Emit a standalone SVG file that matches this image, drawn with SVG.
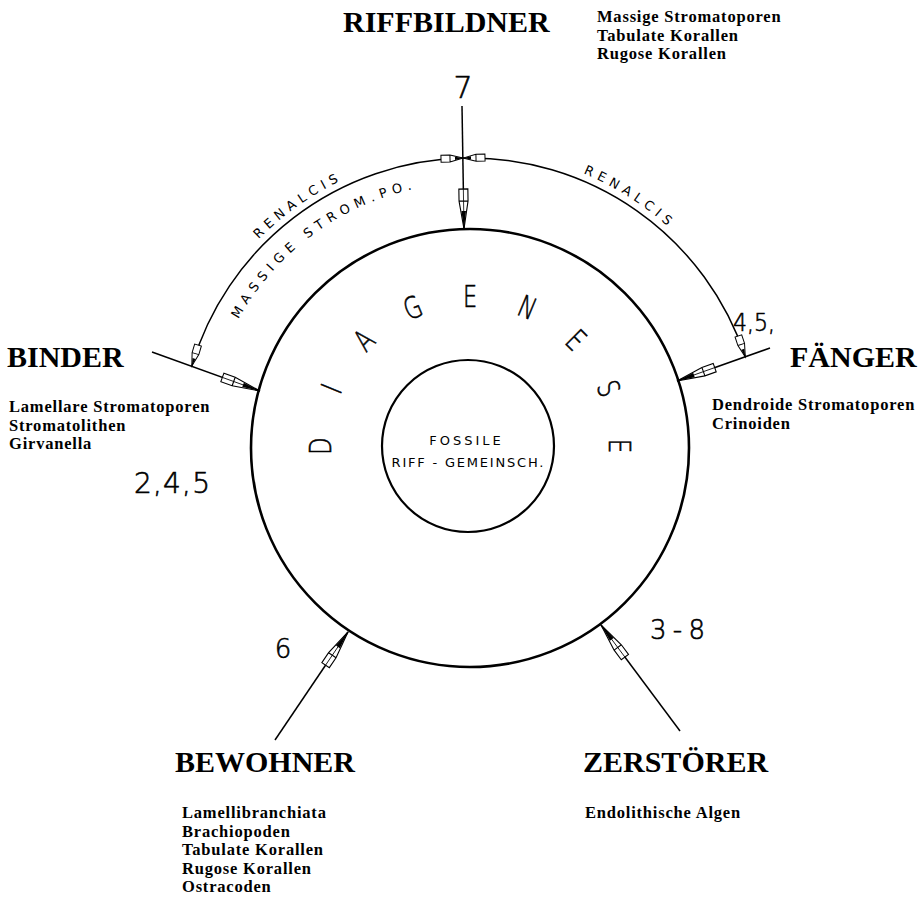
<svg xmlns="http://www.w3.org/2000/svg" width="920" height="897" viewBox="0 0 920 897">
<style>
.h{font-family:"Liberation Serif",serif;font-weight:bold;font-size:30px;fill:#000}
.l{font-family:"Liberation Serif",serif;font-weight:bold;font-size:16.5px;letter-spacing:0.8px;fill:#000}
.d{font-family:"DejaVu Sans",sans-serif;font-weight:200;fill:#000;stroke:#000;stroke-width:0.6}
.arc{font-family:"DejaVu Sans",sans-serif;font-size:13px;fill:#000}
.ln{fill:none;stroke:#000;stroke-width:1.5}
</style>
<defs>
<marker id="big" markerUnits="userSpaceOnUse" markerWidth="50" markerHeight="14" refX="0" refY="0" orient="auto" overflow="visible">
<path d="M0,0 L-28,-4.5 L-40,-4.5 L-40,4.5 L-28,4.5 Z M-28,-4.5 L-28,4.5" fill="#fff" stroke="#000" stroke-width="1.1"/>
<path d="M0,0 L-18,-2.3 L-18,2.3 Z" fill="#000"/>
<path d="M-40,0 L0,0" stroke="#000" stroke-width="0.8"/>
</marker>
<marker id="sm" markerUnits="userSpaceOnUse" markerWidth="30" markerHeight="10" refX="0" refY="0" orient="auto-start-reverse" overflow="visible">
<path d="M0,0 L-13,-3.5 L-22,-3.5 L-22,3.5 L-13,3.5 Z M-13,-3.5 L-13,3.5" fill="#fff" stroke="#000" stroke-width="1"/>
<path d="M0,0 L-8,-1.6 L-8,1.6 Z" fill="#000"/>
</marker>
<path id="pRenL" d="M190.4,347.9 A297,297 0 0 1 468.4,151.0"/>
<path id="pMas" d="M212.7,384.8 A265,265 0 0 1 487.6,183.6"/>
<path id="pRenR" d="M457.0,151.3 A297,297 0 0 1 744.4,334.3"/>
</defs>

<g id="connectors">
<path class="ln" d="M463,158.1 A290,290 0 0 0 191.8,366.1" marker-start="url(#sm)" marker-end="url(#sm)"/>
<path class="ln" d="M463,158.1 A290,290 0 0 1 745.3,356.8" marker-start="url(#sm)" marker-end="url(#sm)"/>
<path class="ln" d="M462,106 L464,229" marker-end="url(#big)"/>
<path class="ln" d="M152,352 L260,391" marker-end="url(#big)"/>
<path class="ln" d="M770,348 L677,381" marker-end="url(#big)"/>
<path class="ln" d="M275,740 L348,632" marker-end="url(#big)"/>
<path class="ln" d="M680,731 L601,625" marker-end="url(#big)"/>
<text class="arc" letter-spacing="5"><textPath href="#pRenL" startOffset="50%" text-anchor="middle">RENALCIS</textPath></text>
<text class="arc" letter-spacing="5.5"><textPath href="#pMas" startOffset="50%" text-anchor="middle">MASSIGE STROM.PO.</textPath></text>
<text class="arc" letter-spacing="5"><textPath href="#pRenR" startOffset="50%" text-anchor="middle">RENALCIS</textPath></text>
</g>

<g id="diagenese">
<circle cx="470" cy="448" r="219" fill="none" stroke="#000" stroke-width="2.6"/>
<g class="d" font-size="30" text-anchor="middle" dominant-baseline="central">
<text transform="translate(320,446) rotate(-90) scale(0.75,1)">D</text>
<text transform="translate(331.4,388.6) rotate(-67.5) scale(0.75,1)">I</text>
<text transform="translate(363.9,339.9) rotate(-45) scale(0.75,1)">A</text>
<text transform="translate(412.6,307.4) rotate(-22.5) scale(0.75,1)">G</text>
<text transform="translate(470,296) scale(0.75,1)">E</text>
<text transform="translate(527.4,307.4) rotate(22.5) scale(0.75,1)">N</text>
<text transform="translate(576.1,339.9) rotate(45) scale(0.75,1)">E</text>
<text transform="translate(608.6,388.6) rotate(67.5) scale(0.75,1)">S</text>
<text transform="translate(620,446) rotate(90) scale(0.75,1)">E</text>
</g>
</g>

<g id="fossile">
<circle cx="468" cy="446" r="86" fill="none" stroke="#000" stroke-width="2.2"/>
<text font-family="DejaVu Sans, sans-serif" font-size="13" letter-spacing="3" x="466.5" y="445" text-anchor="middle">FOSSILE</text>
<text font-family="DejaVu Sans, sans-serif" font-size="13" letter-spacing="1.8" x="468.4" y="467" text-anchor="middle">RIFF - GEMEINSCH.</text>
</g>

<g id="riffbildner">
<text class="h" x="343" y="32">RIFFBILDNER</text>
<text class="l" x="597" y="22">Massige Stromatoporen</text>
<text class="l" x="597" y="40.5">Tabulate Korallen</text>
<text class="l" x="597" y="59">Rugose Korallen</text>
<text class="d" font-size="30" x="463" y="98" text-anchor="middle">7</text>
</g>

<g id="binder">
<text class="h" x="7" y="367">BINDER</text>
<text class="l" x="9" y="412">Lamellare Stromatoporen</text>
<text class="l" x="9" y="430.5">Stromatolithen</text>
<text class="l" x="9" y="449">Girvanella</text>
<text class="d" font-size="28" x="134" y="493" textLength="76" lengthAdjust="spacing">2,4,5</text>
</g>

<g id="faenger">
<text class="h" x="790" y="367">FÄNGER</text>
<text class="l" x="712" y="410">Dendroide Stromatoporen</text>
<text class="l" x="712" y="428.5">Crinoiden</text>
<text class="d" font-size="24" x="733" y="331" textLength="42" lengthAdjust="spacingAndGlyphs">4,5,</text>
</g>

<g id="bewohner">
<text class="h" x="175" y="772">BEWOHNER</text>
<text class="l" x="182" y="818">Lamellibranchiata</text>
<text class="l" x="182" y="836.5">Brachiopoden</text>
<text class="l" x="182" y="855">Tabulate Korallen</text>
<text class="l" x="182" y="873.5">Rugose Korallen</text>
<text class="l" x="182" y="892">Ostracoden</text>
<text class="d" font-size="26" x="283" y="658" text-anchor="middle">6</text>
</g>

<g id="zerstoerer">
<text class="h" x="583" y="772">ZERSTÖRER</text>
<text class="l" x="585" y="818">Endolithische Algen</text>
<text class="d" font-size="26" x="650" y="639" textLength="55" lengthAdjust="spacing" xml:space="preserve">3 - 8</text>
</g>
</svg>
